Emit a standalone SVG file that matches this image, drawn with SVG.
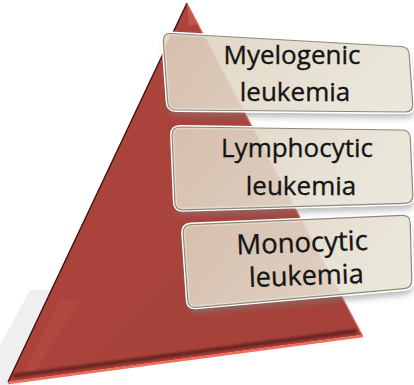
<svg xmlns="http://www.w3.org/2000/svg" width="414" height="385" viewBox="0 0 414 385">
  <style>
    .lbl { font-family: "Open Sans", "Liberation Sans", sans-serif; font-size: 26px; fill: #141414; stroke: #141414; stroke-width: 0.35; text-anchor: middle; }
    .glow { fill: none; stroke: #ffffff; stroke-width: 4; stroke-linejoin: round; }
    .box { fill: url(#boxGrad); stroke: #8e897a; stroke-width: 1.2; stroke-linejoin: round; }
    .shd { fill: #808080; opacity: 0.55; }
  </style>
  <defs>
    <linearGradient id="boxGrad" x1="0" y1="0" x2="1" y2="0.3">
      <stop offset="0" stop-color="#dccfbb" stop-opacity="0.88"/>
      <stop offset="1" stop-color="#e8e4d7" stop-opacity="0.9"/>
    </linearGradient>
    <linearGradient id="pyrGrad" x1="0" y1="0" x2="1" y2="1">
      <stop offset="0" stop-color="#ae453c"/>
      <stop offset="1" stop-color="#a4413a"/>
    </linearGradient>
    <filter id="blur" x="-10%" y="-30%" width="120%" height="160%">
      <feGaussianBlur stdDeviation="3"/>
    </filter>
    <filter id="soft" x="-5%" y="-5%" width="110%" height="110%">
      <feGaussianBlur stdDeviation="1.2"/>
    </filter>
    <path id="p1" d="M171,33.5 L401,46.5 Q409,47 409.3,55 L412.7,104 Q413,112 405,112 L176,110 Q168,110 167.7,102 L163.3,41 Q163,33 171,33.5 Z"/>
    <path id="p2" d="M180,127 L402,130 Q410,130 410.3,138 L412.8,195 Q413,203 405,203.3 L183,209.8 Q175,210 174.9,202 L172.1,135 Q172,127 180,127 Z"/>
    <path id="p3" d="M191,224.6 L402,215.4 Q410,215 410.2,223 L411.8,280 Q412,288 404,288.7 L196,307.3 Q188,308 187.8,300 L183.2,233 Q183,225 191,224.6 Z"/>
    <mask id="m1" maskUnits="userSpaceOnUse" x="0" y="0" width="414" height="385">
      <rect width="414" height="385" fill="#fff"/>
      <use href="#p1" fill="#000" stroke="#000" stroke-width="4"/>
    </mask>
    <mask id="m2" maskUnits="userSpaceOnUse" x="0" y="0" width="414" height="385">
      <rect width="414" height="385" fill="#fff"/>
      <use href="#p2" fill="#000" stroke="#000" stroke-width="4"/>
    </mask>
    <mask id="m3" maskUnits="userSpaceOnUse" x="0" y="0" width="414" height="385">
      <rect width="414" height="385" fill="#fff"/>
      <use href="#p3" fill="#000" stroke="#000" stroke-width="4"/>
    </mask>
  </defs>

  <!-- faint reflection -->
  <polygon points="30,290 56,290 20,385 0,385 0,345" fill="#efefef"/>

  <g id="pyramid">
    <polygon points="187,3 362,335 8,382" fill="url(#pyrGrad)"/>
    <polygon points="60,300 80,300 36,370 24,372" fill="#c0554b" opacity="0.35"/>
    <line x1="13" y1="376" x2="357" y2="331" stroke="#4e1712" stroke-width="4" opacity="0.7" filter="url(#soft)"/>
    <line x1="187" y1="3" x2="8" y2="382" stroke="#3f120e" stroke-width="1.4"/>
    <line x1="187" y1="4" x2="362" y2="335" stroke="#d8665a" stroke-width="1.6" opacity="0.8"/>
    <line x1="8" y1="383" x2="363" y2="336" stroke="#f26a5a" stroke-width="2.5"/>
    <polygon points="187,4 198,24 189,26" fill="#cf6256" opacity="0.6"/>
  </g>

  <g id="box1">
    <g mask="url(#m1)"><use href="#p1" class="shd" transform="translate(1 6)" filter="url(#blur)"/></g>
    <use href="#p1" class="glow"/>
    <use href="#p1" class="box"/>
    <text class="lbl" x="292" y="64">Myelogenic</text>
    <text class="lbl" x="295" y="101">leukemia</text>
  </g>

  <g id="box2">
    <g mask="url(#m2)"><use href="#p2" class="shd" transform="translate(1 6)" filter="url(#blur)"/></g>
    <use href="#p2" class="glow"/>
    <use href="#p2" class="box"/>
    <text class="lbl" x="297" y="157">Lymphocytic</text>
    <text class="lbl" x="301" y="195">leukemia</text>
  </g>

  <g id="box3">
    <g mask="url(#m3)"><use href="#p3" class="shd" transform="translate(1 6)" filter="url(#blur)"/></g>
    <use href="#p3" class="glow"/>
    <use href="#p3" class="box"/>
    <g transform="rotate(-2 305 268)">
      <text class="lbl" x="303" y="252" style="font-size:27.5px">Monocytic</text>
      <text class="lbl" x="306" y="285" style="font-size:27px">leukemia</text>
    </g>
  </g>
</svg>
